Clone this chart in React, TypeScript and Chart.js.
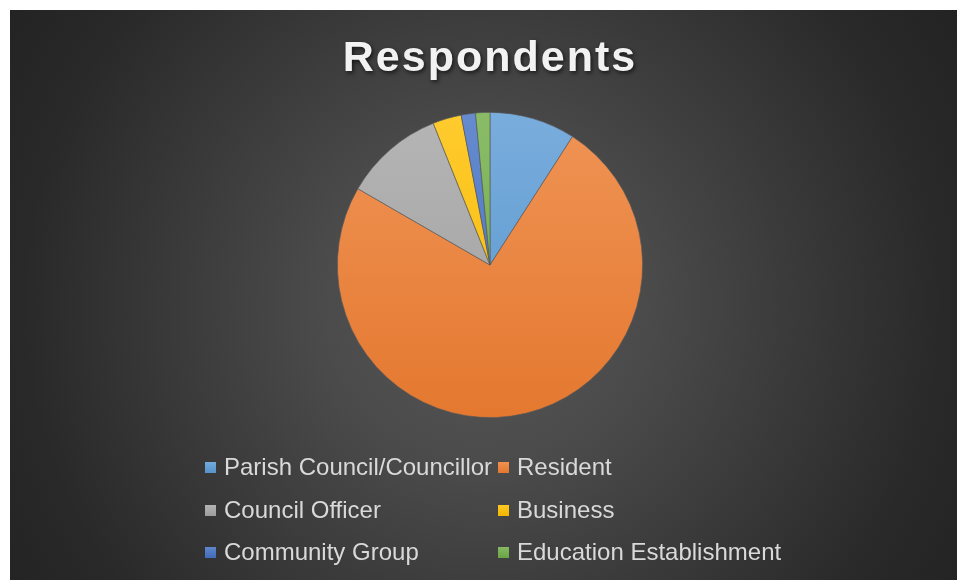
import React, { useEffect, useRef } from "react";
import { Chart, registerables } from "chart.js";

Chart.register(...registerables);

const categories = [
  "Parish Council/Councillor",
  "Resident",
  "Council Officer",
  "Business",
  "Community Group",
  "Education Establishment",
];
const counts = [6, 49, 7, 2, 1, 1];
const baseColors = ["#5B9BD5", "#ED7D31", "#A5A5A5", "#FFC000", "#4472C4", "#70AD47"];
const chartTitle = "Respondents";

function mix(hex: string, target: number, t: number): string {
  const n = parseInt(hex.slice(1), 16);
  const r = (n >> 16) & 255, g = (n >> 8) & 255, b = n & 255;
  const f = (c: number) => Math.round(c + (target - c) * t);
  return `rgb(${f(r)},${f(g)},${f(b)})`;
}

const titlePlugin = {
  id: "customTitle",
  afterDraw(chart: any) {
    const ctx = chart.ctx;
    ctx.save();
    ctx.font = "bold 43px 'Liberation Sans', Arial, sans-serif";
    (ctx as any).letterSpacing = "2px";
    ctx.textAlign = "center";
    ctx.textBaseline = "alphabetic";
    ctx.shadowColor = "rgba(0,0,0,0.65)";
    ctx.shadowOffsetX = 1.5;
    ctx.shadowOffsetY = 2;
    ctx.shadowBlur = 4;
    ctx.fillStyle = "#f2f2f2";
    ctx.fillText(chartTitle, 480, 61);
    ctx.restore();
  },
};

const legendPlugin = {
  id: "gridLegend",
  afterDraw(chart: any) {
    const ctx = chart.ctx;
    const colX = [195, 488];
    const rowY = [457, 500, 542];
    ctx.save();
    ctx.font = "24px 'Liberation Sans', Arial, sans-serif";
    ctx.textBaseline = "middle";
    ctx.textAlign = "left";
    categories.forEach((label, i) => {
      const col = i % 2;
      const row = Math.floor(i / 2);
      const x = colX[col];
      const y = rowY[row];
      const g = ctx.createLinearGradient(0, y - 5, 0, y + 6);
      g.addColorStop(0, mix(baseColors[i], 255, 0.15));
      g.addColorStop(1, mix(baseColors[i], 0, 0.05));
      ctx.fillStyle = g;
      ctx.fillRect(x, y - 5, 11, 11);
      ctx.fillStyle = "#d9d9d9";
      ctx.fillText(label, x + 19, y + 1.5);
    });
    ctx.restore();
  },
};

export default function App() {
  const ref = useRef<HTMLCanvasElement>(null);
  useEffect(() => {
    if (!ref.current) return;
    const chart = new Chart(ref.current, {
      type: "pie",
      data: {
        labels: categories,
        datasets: [
          {
            data: counts,
            backgroundColor: (c: any) => {
              const area = c.chart.chartArea;
              const base = baseColors[c.dataIndex % baseColors.length];
              if (!area) return base;
              const g = c.chart.ctx.createLinearGradient(0, area.top, 0, area.bottom);
              g.addColorStop(0, mix(base, 255, 0.18));
              g.addColorStop(1, mix(base, 0, 0.04));
              return g;
            },
            borderColor: "rgba(90,90,90,0.8)",
            borderWidth: 0.8,
          },
        ],
      },
      options: {
        animation: false,
        responsive: true,
        maintainAspectRatio: false,
        layout: { padding: { top: 102, bottom: 162, left: 13, right: 0 } },
        plugins: {
          legend: { display: false },
          title: { display: false },
          tooltip: { enabled: false },
        },
      },
      plugins: [titlePlugin, legendPlugin],
    });
    return () => chart.destroy();
  }, []);
  return (
    <div
      style={{
        position: "fixed",
        left: 10,
        top: 10,
        width: 947,
        height: 570,
        background:
          "radial-gradient(circle at 473px 295px, #585858 0px, #4a4a4a 170px, #292929 460px, #232323 560px)",
      }}
    >
      <canvas ref={ref} />
    </div>
  );
}
